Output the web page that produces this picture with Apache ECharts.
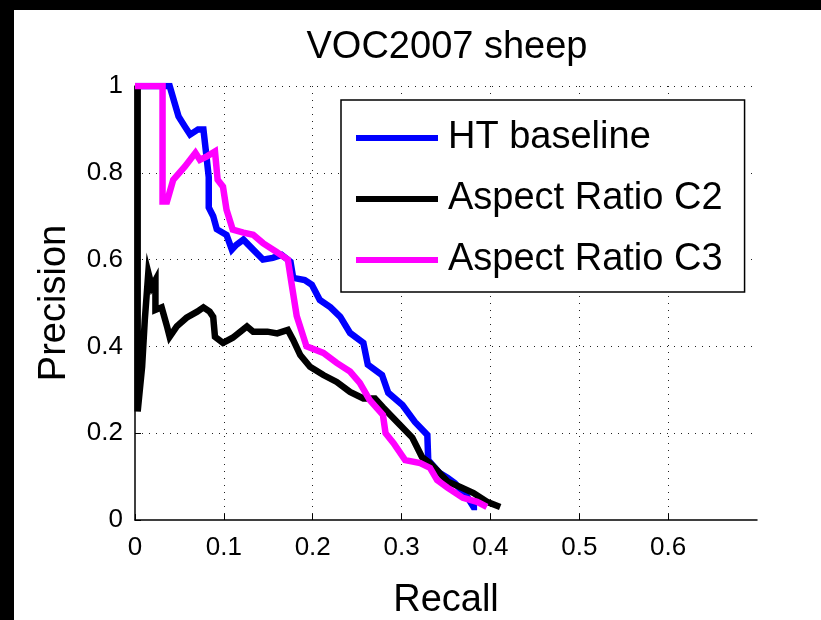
<!DOCTYPE html>
<html>
<head>
<meta charset="utf-8">
<title>VOC2007 sheep</title>
<script src="https://cdn.jsdelivr.net/npm/echarts@6/dist/echarts.min.js"></script>
<style>
  html, body { margin: 0; padding: 0; background: #000; }
  #chart { width: 821px; height: 620px; }
</style>
</head>
<body>
<div id="chart"></div>
<script>
const titleText = 'VOC2007 sheep';
const seriesNames = ['HT baseline', 'Aspect Ratio C2', 'Aspect Ratio C3'];
const xTickMax = 0.7;

const htRecall = [0.0, 0.039, 0.049, 0.056, 0.062, 0.071, 0.077, 0.080, 0.083, 0.083, 0.088, 0.092, 0.103, 0.109, 0.114, 0.122, 0.133, 0.144, 0.155, 0.165, 0.175, 0.178, 0.191, 0.199, 0.208, 0.220, 0.231, 0.242, 0.257, 0.262, 0.278, 0.285, 0.301, 0.315, 0.329, 0.330, 0.343, 0.352, 0.360, 0.374, 0.381, 0.385];
const htPrecision = [1.0, 1.0, 0.93, 0.907, 0.888, 0.90, 0.90, 0.846, 0.79, 0.72, 0.70, 0.67, 0.657, 0.623, 0.634, 0.646, 0.623, 0.60, 0.604, 0.611, 0.595, 0.558, 0.553, 0.542, 0.507, 0.49, 0.468, 0.431, 0.408, 0.358, 0.334, 0.293, 0.265, 0.226, 0.196, 0.138, 0.108, 0.097, 0.085, 0.053, 0.030, 0.030];

const c2Recall = [0.003, 0.003, 0.008, 0.011, 0.015, 0.019, 0.023, 0.023, 0.030, 0.036, 0.039, 0.047, 0.058, 0.070, 0.077, 0.084, 0.088, 0.090, 0.099, 0.110, 0.126, 0.133, 0.149, 0.160, 0.172, 0.178, 0.186, 0.197, 0.212, 0.227, 0.242, 0.257, 0.270, 0.279, 0.295, 0.312, 0.323, 0.332, 0.343, 0.352, 0.366, 0.381, 0.396, 0.411];
const c2Precision = [1.0, 0.25, 0.353, 0.46, 0.57, 0.538, 0.553, 0.484, 0.49, 0.446, 0.422, 0.446, 0.466, 0.48, 0.49, 0.48, 0.468, 0.422, 0.408, 0.42, 0.446, 0.434, 0.434, 0.43, 0.438, 0.415, 0.38, 0.353, 0.334, 0.318, 0.295, 0.28, 0.28, 0.26, 0.226, 0.19, 0.145, 0.131, 0.108, 0.088, 0.076, 0.062, 0.042, 0.030];

const c3Recall = [0.0, 0.031, 0.031, 0.036, 0.043, 0.056, 0.068, 0.073, 0.081, 0.090, 0.093, 0.099, 0.103, 0.110, 0.122, 0.133, 0.144, 0.159, 0.172, 0.176, 0.182, 0.193, 0.212, 0.227, 0.242, 0.253, 0.264, 0.279, 0.282, 0.291, 0.304, 0.321, 0.332, 0.340, 0.352, 0.369, 0.385, 0.396];
const c3Precision = [1.0, 1.0, 0.734, 0.734, 0.784, 0.814, 0.846, 0.83, 0.838, 0.849, 0.784, 0.768, 0.715, 0.669, 0.662, 0.657, 0.638, 0.618, 0.60, 0.547, 0.47, 0.40, 0.385, 0.362, 0.342, 0.316, 0.277, 0.242, 0.20, 0.177, 0.138, 0.131, 0.12, 0.092, 0.074, 0.051, 0.042, 0.030];

const colors = ['#0000ff', '#000000', '#ff00ff'];
const font = 'Liberation Sans, Arial, Helvetica, sans-serif';

function pairs(xs, ys) {
  return xs.map((x, i) => [x, ys[i]]);
}

const chart = echarts.init(document.getElementById('chart'));

const gridLine = { show: true, lineStyle: { color: '#222', width: 1, type: [1, 6] } };

const option = {
  backgroundColor: '#000',
  animation: false,
  graphic: [
    // white figure area, black frame on top and left
    { type: 'rect', left: 14, top: 10, shape: { width: 807, height: 610 }, style: { fill: '#fff' }, z: -10 }
  ],
  title: {
    text: titleText,
    left: 442,
    top: 24,
    textAlign: 'center',
    textStyle: { fontFamily: font, fontSize: 38, fontWeight: 'normal', color: '#000' }
  },
  legend: {
    orient: 'vertical',
    left: 341,
    top: 100,
    padding: [18, 22, 12, 15],
    itemGap: 21,
    itemWidth: 82,
    itemHeight: 6,
    icon: 'rect',
    borderColor: '#000',
    borderWidth: 1.5,
    backgroundColor: '#fff',
    textStyle: { fontFamily: font, fontSize: 38, color: '#000', lineHeight: 40, padding: [0, 0, 0, 5] },
    data: seriesNames
  },
  // keep the plot box fixed; names sit outside it like the original figure
  grid: { left: 135, right: 64, top: 86, bottom: 100, containLabel: false, outerBoundsMode: 'none' },
  xAxis: {
    type: 'value',
    min: 0,
    max: xTickMax,
    interval: 0.1,
    name: 'Recall',
    nameLocation: 'middle',
    nameGap: 62,
    nameTextStyle: { fontFamily: font, fontSize: 38, color: '#000' },
    axisLine: { lineStyle: { color: '#000', width: 1.5 } },
    axisTick: { inside: true, length: 6, lineStyle: { color: '#000' } },
    axisLabel: { fontFamily: font, fontSize: 26, color: '#000', margin: 15, showMaxLabel: false },
    splitLine: Object.assign({ showMinLine: false, showMaxLine: false }, gridLine)
  },
  yAxis: {
    type: 'value',
    min: 0,
    max: 1,
    interval: 0.2,
    name: 'Precision',
    nameLocation: 'middle',
    nameGap: 61,
    nameTextStyle: { fontFamily: font, fontSize: 38, color: '#000' },
    axisLine: { show: true, lineStyle: { color: '#000', width: 1.5 } },
    axisTick: { show: true, inside: true, length: 6, lineStyle: { color: '#000' } },
    axisLabel: { fontFamily: font, fontSize: 26, color: '#000', margin: 12 },
    splitLine: Object.assign({ showMinLine: false }, gridLine)
  },
  series: [
    { name: seriesNames[0], type: 'line', data: pairs(htRecall, htPrecision) },
    { name: seriesNames[1], type: 'line', data: pairs(c2Recall, c2Precision) },
    { name: seriesNames[2], type: 'line', data: pairs(c3Recall, c3Precision) }
  ].map((s, i) => Object.assign(s, {
    showSymbol: false,
    clip: true,
    color: colors[i],
    lineStyle: { color: colors[i], width: 6.5, join: 'miter' }
  }))
};

chart.setOption(option);
</script>
</body>
</html>
